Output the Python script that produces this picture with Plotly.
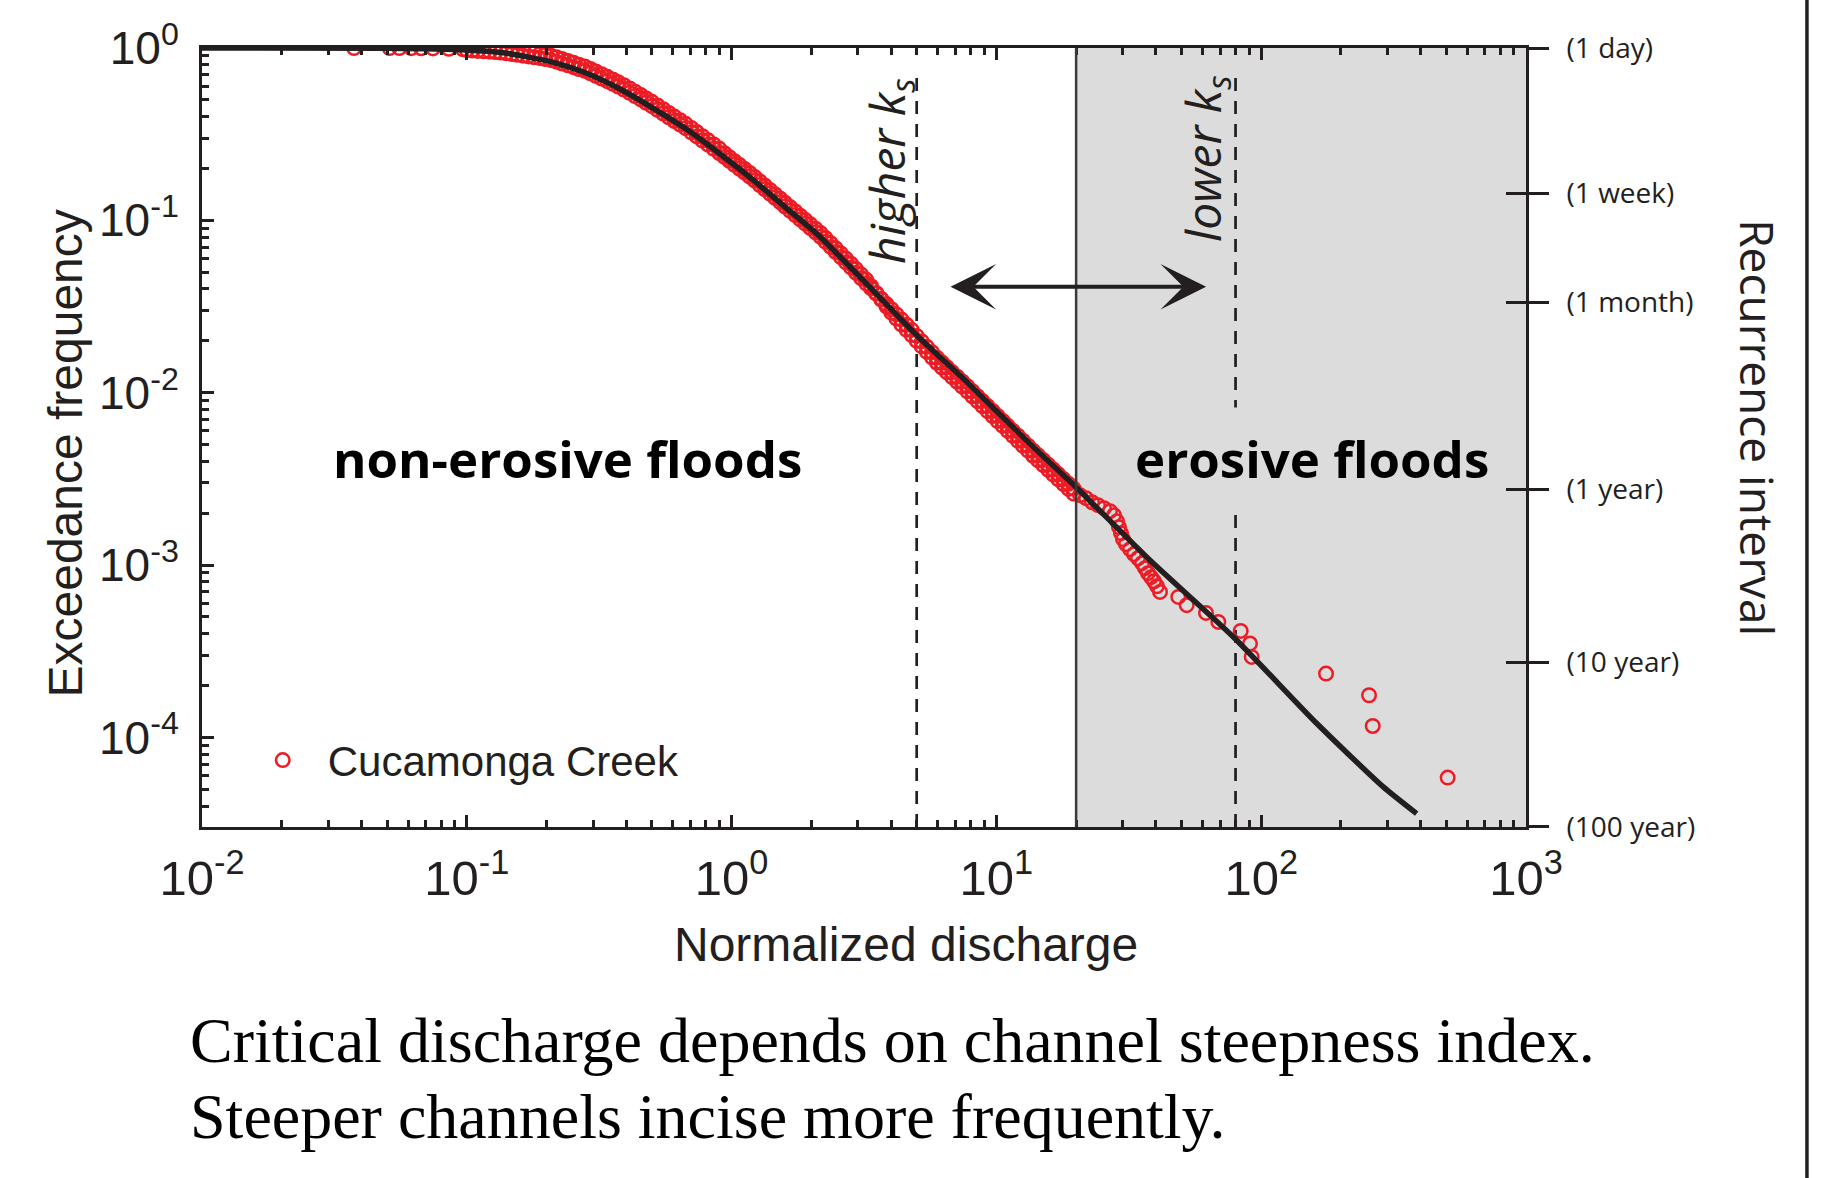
import plotly.graph_objects as go

# ---------------- data ----------------
# Cucamonga Creek daily discharge (normalized) and exceedance frequency
low_q = [0.0375, 0.0511, 0.0556, 0.0617, 0.0672, 0.0745, 0.0855, 0.0964]
low_f = [0.9999, 0.9995, 0.999, 0.998, 0.997, 0.995, 0.99, 0.985]

knee_q = [0.100, 0.105, 0.110, 0.116, 0.122, 0.128, 0.134, 0.141, 0.148, 0.155,
          0.163, 0.171, 0.180, 0.189, 0.198, 0.208, 0.218, 0.229, 0.241, 0.253,
          0.265, 0.279, 0.293, 0.307, 0.323, 0.339, 0.356, 0.373, 0.392, 0.412,
          0.432, 0.454, 0.476, 0.500, 0.525, 0.552, 0.579, 0.608, 0.639, 0.670,
          0.704, 0.739, 0.776, 0.815, 0.856, 0.898]
knee_f = [0.9727, 0.9675, 0.9623, 0.9570, 0.9519, 0.9467, 0.9417, 0.9326, 0.9224, 0.9127,
          0.9029, 0.8933, 0.8839, 0.8744, 0.8628, 0.8506, 0.8335, 0.8132, 0.7934, 0.7739,
          0.7551, 0.7367, 0.7137, 0.6890, 0.6650, 0.6417, 0.6194, 0.5978, 0.5738, 0.5495,
          0.5261, 0.5034, 0.4810, 0.4596, 0.4376, 0.4164, 0.3963, 0.3773, 0.3592, 0.3426,
          0.3245, 0.3070, 0.2904, 0.2749, 0.2601, 0.2460]

# tied days stacked at the same discharge in the knee
knee_tie_q = [0.180, 0.189, 0.198, 0.208, 0.218, 0.229, 0.241, 0.253, 0.265, 0.279,
              0.293, 0.307, 0.323, 0.339, 0.356, 0.373, 0.392, 0.412, 0.432, 0.454,
              0.476, 0.500, 0.525, 0.552, 0.579, 0.608, 0.639, 0.670, 0.704, 0.739,
              0.776, 0.815, 0.856, 0.898]
knee_tie_f = [0.9369, 0.9269, 0.9146, 0.9016, 0.8835, 0.8620, 0.8410, 0.8203, 0.8004, 0.7809,
              0.7565, 0.7303, 0.7049, 0.6802, 0.6566, 0.6337, 0.6082, 0.5825, 0.5577, 0.5336,
              0.5099, 0.4872, 0.4639, 0.4414, 0.4201, 0.3999, 0.3808, 0.3632, 0.3440, 0.3254,
              0.3078, 0.2914, 0.2757, 0.2608]

slope_q = [0.939, 0.981, 1.025, 1.072, 1.120, 1.170, 1.223, 1.278, 1.335, 1.395,
           1.458, 1.524, 1.592, 1.664, 1.739, 1.817, 1.899, 1.984, 2.074, 2.167,
           2.264, 2.366, 2.473, 2.584, 2.700, 2.822, 2.949, 3.082, 3.220, 3.365,
           3.517, 3.675, 3.840, 4.013, 4.194, 4.383, 4.580, 4.786, 5.000, 5.226,
           5.461, 5.707, 5.963, 6.232, 6.512, 6.805, 7.112, 7.432, 7.766, 8.116,
           8.481, 8.862, 9.261, 9.678, 10.11, 10.57, 11.04, 11.54, 12.06, 12.60,
           13.17, 13.76, 14.38, 15.03, 15.71, 16.41, 17.15, 17.92, 18.73, 19.58]
slope_f = [0.2335, 0.2215, 0.2101, 0.1992, 0.1890, 0.1793, 0.1699, 0.1604, 0.1515, 0.1430,
           0.1351, 0.1275, 0.1204, 0.1137, 0.1073, 0.1013, 0.09563, 0.09029, 0.08524, 0.08038,
           0.07513, 0.07018, 0.06556, 0.06124, 0.05716, 0.05333, 0.04969, 0.04629, 0.04316, 0.04027,
           0.03757, 0.03506, 0.03271, 0.03051, 0.02847, 0.02657, 0.02479, 0.02313, 0.02137, 0.01986,
           0.01847, 0.01718, 0.01597, 0.01496, 0.01404, 0.01318, 0.01238, 0.01162, 0.01091, 0.01021,
           0.009556, 0.008944, 0.008372, 0.007837, 0.007334, 0.006866, 0.006427, 0.006014, 0.005630, 0.005269,
           0.004933, 0.004613, 0.004334, 0.004066, 0.003816, 0.003581, 0.003361, 0.003154, 0.002960, 0.002778]

# tied days stacked at the same discharge along the power-law limb
slope_tie_q = [0.939, 0.981, 1.025, 1.072, 1.120, 1.170, 1.223, 1.278, 1.335, 1.395,
               1.458, 1.524, 1.592, 1.664, 1.739, 1.817, 1.899, 1.984, 2.074, 2.167,
               2.264, 2.366, 2.473, 2.584, 2.700, 2.822, 2.949, 3.082, 3.220, 3.365,
               3.517, 3.675, 3.840, 4.013, 4.194, 4.383, 4.580, 4.786, 5.000, 5.226,
               5.461, 5.707, 5.963, 6.232, 6.512, 6.805, 7.112, 7.432, 7.766, 8.116,
               8.481, 8.862, 9.261, 9.678, 10.11, 10.57, 11.04, 11.54, 12.06, 12.60,
               13.17, 13.76, 14.38, 15.03, 15.71, 16.41, 17.15, 17.92, 18.73, 19.58]
slope_tie_f = [0.2452, 0.2326, 0.2206, 0.2092, 0.1985, 0.1883, 0.1784, 0.1684, 0.1591, 0.1502,
               0.1419, 0.1339, 0.1264, 0.1194, 0.1127, 0.1064, 0.1004, 0.09480, 0.08950, 0.08440,
               0.07889, 0.07369, 0.06884, 0.06430, 0.06002, 0.05600, 0.05217, 0.04860, 0.04532, 0.04148,
               0.03795, 0.03471, 0.03173, 0.02914, 0.02690, 0.02483, 0.02317, 0.02162, 0.01997, 0.01856,
               0.01726, 0.01606, 0.01493, 0.01398, 0.01312, 0.01232, 0.01157, 0.01086, 0.01020, 0.009542,
               0.008931, 0.008359, 0.007825, 0.007325, 0.006854, 0.006417, 0.006007, 0.005621, 0.005262, 0.004924,
               0.004610, 0.004311, 0.004051, 0.003800, 0.003566, 0.003347, 0.003141, 0.002948, 0.002766, 0.002596]

flood_q = [20.69, 21.80, 22.96, 24.19, 25.49, 26.85, 27.80, 28.54, 29.04, 29.55,
           30.07, 30.86, 31.95, 33.08, 34.25, 35.46, 36.40, 37.36, 38.35, 39.37,
           40.41, 41.48]
flood_f = [0.002544, 0.002445, 0.002318, 0.002227, 0.002139, 0.002055, 0.001948, 0.001798, 0.001660, 0.001532,
           0.001414, 0.001322, 0.001237, 0.001157, 0.001096, 0.001026, 0.0009594, 0.0008974, 0.0008507, 0.0008063,
           0.0007543, 0.0006991]

peak_q = [48.63, 52.31, 61.88, 68.87, 83.66, 90.71, 92.08, 175.7, 255.4, 263.7, 506.0]
peak_f = [6.537e-4, 5.852e-4, 5.279e-4, 4.680e-4, 4.151e-4, 3.508e-4, 2.932e-4,
          2.349e-4, 1.758e-4, 1.166e-4, 5.852e-5]

# fitted discharge distribution
fit_q = [0.01, 0.05, 0.1, 0.1374, 0.2123, 0.2838, 0.3789, 0.5062, 0.6767, 0.9042,
         1.208, 1.614, 2.158, 2.799, 5.000, 7.727, 13.77, 19.82, 38.02, 78.52,
         162.2, 289.1, 386.4]
fit_f = [1.0, 0.998, 0.975, 0.9391, 0.826, 0.713, 0.578, 0.4467, 0.3373, 0.2427,
         0.1714, 0.1175, 0.0804, 0.0538, 0.02158, 0.01156, 0.004853, 0.002871, 0.001067, 3.828e-4,
         1.205e-4, 5.164e-5, 3.614e-5]

# critical discharges
q_erosive = 20
q_high_ks = 5
q_low_ks = 80
q_max = 1000

# axis ticks
x_tickvals = [0.01, 0.1, 1, 10, 100, 1000]
x_ticktext = ['10<sup>-2</sup>', '10<sup>-1</sup>', '10<sup>0</sup>',
              '10<sup>1</sup>', '10<sup>2</sup>', '10<sup>3</sup>']
y_tickvals = [1e-4, 1e-3, 1e-2, 1e-1, 1]
y_ticktext = ['10<sup>-4</sup>', '10<sup>-3</sup>', '10<sup>-2</sup>',
              '10<sup>-1</sup>', '10<sup>0</sup>']
y_min = 3.025e-5
recur_vals = [1, 1 / 7, 1 / 30, 1 / 365, 1 / 3650, y_min]
recur_text = ['(1 day)', '(1 week)', '(1 month)', '(1 year)', '(10 year)', '(100 year)']

x_minor = [m * 10 ** e for e in range(-2, 3) for m in range(2, 10)]
y_minor = [m * 10 ** e for e in range(-5, 0) for m in range(2, 10)]
y_minor = [v for v in y_minor if v > y_min]

# ---------------- styling ----------------
INK = '#231f20'
RED = '#ed1c24'
GRAY = '#dcdcdc'
SANS = 'Liberation Sans, Arial, sans-serif'
HUM = 'Open Sans, sans-serif'
SERIF = 'Liberation Serif, Times New Roman, serif'

obs_q = low_q + knee_q + knee_tie_q + slope_q + slope_tie_q + flood_q + peak_q
obs_f = low_f + knee_f + knee_tie_f + slope_f + slope_tie_f + flood_f + peak_f

fig = go.Figure()

fig.add_trace(go.Scatter(
    x=obs_q, y=obs_f, mode='markers', name='Cucamonga Creek',
    marker=dict(symbol='circle-open', size=13.5, color=RED,
                line=dict(width=2.5, color=RED)),
    hoverinfo='skip'))

fig.add_trace(go.Scatter(
    x=fit_q, y=fit_f, mode='lines', showlegend=False,
    line=dict(color=INK, width=5.5, shape='spline', smoothing=0.6),
    hoverinfo='skip'))

# carriers for the recurrence-interval axis
for ax_name in ('y2', 'y3'):
    fig.add_trace(go.Scatter(x=fit_q, y=fit_f, yaxis=ax_name, mode='lines',
                             line=dict(width=0), opacity=0, showlegend=False,
                             hoverinfo='skip'))

y_range = [-4.5194, 0]

fig.update_layout(
    width=1845, height=1178,
    margin=dict(l=202, r=319, t=48, b=351),
    paper_bgcolor='white', plot_bgcolor='white',
    showlegend=True,
    legend=dict(x=0.027, y=0.0857, xanchor='left', yanchor='middle',
                bgcolor='rgba(0,0,0,0)', borderwidth=0, itemwidth=80,
                font=dict(family=SANS, size=42, color=INK)),
    xaxis=dict(
        type='log', range=[-2, 3], tickmode='array', tickvals=x_tickvals,
        ticktext=x_ticktext, ticks='inside', ticklen=12, tickwidth=2.5, tickcolor=INK,
        showline=True, linewidth=3, linecolor=INK, mirror='ticks',
        showgrid=False, zeroline=False, ticklabelstandoff=6,
        tickfont=dict(family=SANS, size=49, color=INK),
        minor=dict(tickmode='array', tickvals=x_minor, ticks='inside', ticklen=7,
                   tickwidth=2.5, tickcolor=INK, showgrid=False)),
    yaxis=dict(
        type='log', range=y_range, tickmode='array', tickvals=y_tickvals,
        ticktext=y_ticktext, ticks='inside', ticklen=12, tickwidth=2.5, tickcolor=INK,
        showline=True, linewidth=3, linecolor=INK, mirror=False,
        showgrid=False, zeroline=False, ticklabelstandoff=11,
        tickfont=dict(family=SANS, size=46, color=INK),
        minor=dict(tickmode='array', tickvals=y_minor, ticks='inside', ticklen=7,
                   tickwidth=2.5, tickcolor=INK, showgrid=False)),
    yaxis2=dict(
        type='log', range=y_range, overlaying='y', side='right', anchor='x',
        tickmode='array', tickvals=recur_vals, ticktext=recur_text,
        ticks='outside', ticklen=20, tickwidth=2.5, tickcolor=INK,
        showline=True, linewidth=3, linecolor=INK, showgrid=False, zeroline=False,
        ticklabelstandoff=12, tickfont=dict(family=HUM, size=28, color=INK)),
    yaxis3=dict(
        type='log', range=y_range, overlaying='y', side='right', anchor='x',
        tickmode='array', tickvals=recur_vals, showticklabels=False,
        ticks='inside', ticklen=20, tickwidth=2.5, tickcolor=INK,
        showline=False, showgrid=False, zeroline=False),
)

# erosive-flood region and threshold lines
fig.add_shape(type='rect', xref='x', yref='paper', x0=q_erosive, x1=q_max, y0=0, y1=1,
              fillcolor=GRAY, line=dict(width=0), layer='below')
fig.add_shape(type='line', xref='x', yref='paper', x0=q_high_ks, x1=q_high_ks, y0=0, y1=0.968,
              line=dict(color=INK, width=2.7, dash='13px,10px'), layer='below')
fig.add_shape(type='line', xref='x', yref='paper', x0=q_low_ks, x1=q_low_ks, y0=0, y1=0.968,
              line=dict(color=INK, width=2.7, dash='13px,10px'), layer='below')
fig.add_shape(type='line', xref='x', yref='paper', x0=q_erosive, x1=q_erosive, y0=0, y1=1,
              line=dict(color='#3a3a3a', width=2.5), layer='above')
# frame rule on the far right of the panel
fig.add_shape(type='line', xref='paper', yref='paper', x0=1.2122, x1=1.2122,
              y0=-0.452, y1=1.062, line=dict(color=INK, width=3.5))

ann = []
ann.append(dict(x=0.594, y=-0.714, xref='x', yref='y', text='<i>higher k<sub>s</sub></i>',
                textangle=-90, showarrow=False, xanchor='center', yanchor='middle',
                font=dict(family=HUM, size=48, color=INK)))
ann.append(dict(x=1.7915, y=-0.638, xref='x', yref='y', text='<i>lower k<sub>s</sub></i>',
                textangle=-90, showarrow=False, xanchor='center', yanchor='middle',
                font=dict(family=HUM, size=48, color=INK)))
ann.append(dict(x=-0.618, y=-2.38, xref='x', yref='y', text='<b>non-erosive floods</b>',
                showarrow=False, xanchor='center', yanchor='middle',
                font=dict(family=HUM, size=51, color='black')))
ann.append(dict(x=2.192, y=-2.38, xref='x', yref='y', text='<b>erosive floods</b>',
                showarrow=False, xanchor='center', yanchor='middle', bgcolor=GRAY,
                borderpad=15, font=dict(family=HUM, size=51, color='black')))
# double-headed arrow between the two critical discharges
ann.append(dict(x=1.792, y=-1.385, ax=0.821, ay=-1.385, xref='x', yref='y',
                axref='x', ayref='y', text='', showarrow=True, arrowside='end+start',
                arrowhead=3, startarrowhead=3, arrowsize=1.9, startarrowsize=1.9,
                arrowwidth=4, arrowcolor=INK, standoff=0, startstandoff=0))
# axis titles
ann.append(dict(x=-0.1032, y=0.4799, xref='paper', yref='paper', text='Exceedance frequency',
                textangle=-90, showarrow=False, xanchor='center', yanchor='middle',
                font=dict(family=SANS, size=48, color=INK)))
ann.append(dict(x=0.5314, y=-0.1506, xref='paper', yref='paper', text='Normalized discharge',
                showarrow=False, xanchor='center', yanchor='middle',
                font=dict(family=SANS, size=48, color=INK)))
ann.append(dict(x=1.1752, y=0.512, xref='paper', yref='paper', text='Recurrence interval',
                textangle=90, showarrow=False, xanchor='center', yanchor='middle',
                font=dict(family=HUM, size=46, color=INK)))
# caption
ann.append(dict(x=-0.0106, y=-0.2741, xref='paper', yref='paper',
                text='Critical discharge depends on channel steepness index.',
                showarrow=False, xanchor='left', yanchor='middle',
                font=dict(family=SERIF, size=64, color='black')))
ann.append(dict(x=-0.0106, y=-0.3717, xref='paper', yref='paper',
                text='Steeper channels incise more frequently.',
                showarrow=False, xanchor='left', yanchor='middle',
                font=dict(family=SERIF, size=64, color='black')))

fig.update_layout(annotations=ann)

fig.write_html('out.html')
